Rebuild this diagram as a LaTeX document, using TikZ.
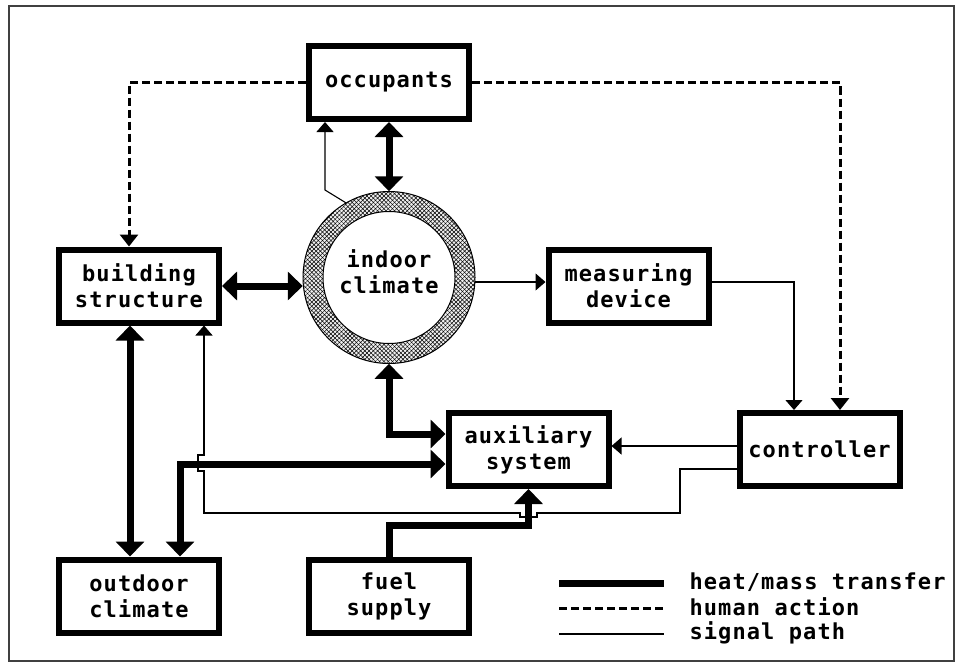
\documentclass[tikz,border=0pt]{standalone}
\usepackage{fontspec}
\newfontfamily\labelfont{DejaVu Sans Mono}[LetterSpace=5]
\usetikzlibrary{arrows.meta,calc,patterns.meta}

\begin{document}
\begin{tikzpicture}[x=1pt,y=-1pt,
  lbl/.style={font=\labelfont\bfseries\fontsize{22pt}{26pt}\selectfont, align=center},
  box/.style={lbl, draw, line width=6pt, minimum width=160pt, minimum height=73pt, inner sep=0pt},
  heat/.style={line width=7pt, line join=miter,
    arrows={-Triangle[width=28pt,length=15pt]}},
  heatboth/.style={heat, arrows={Triangle[width=28pt,length=15pt]-Triangle[width=28pt,length=15pt]}},
  dashline/.style={line width=3pt, dash pattern=on 8pt off 4pt},
  human/.style={dashline, arrows={-Triangle[width=18pt,length=12pt]}},
  signal/.style={line width=1.1pt, arrows={-Triangle[width=17pt,length=10pt]}},
]
% page and frame
\useasboundingbox (0,0) rectangle (963,669);
\fill[white] (0,0) rectangle (963,669);
\draw[black!75, line width=1.5pt] (9,6) rectangle (954,661);

% blocks
\node[box] (occ)  at (389,82.5)  {occupants};
\node[box] (bs)   at (139,286)   {building\\structure};
\node[box] (meas) at (628.5,286) {measuring\\device};
\node[box] (aux)  at (528.5,449.5) {auxiliary\\system};
\node[box] (ctrl) at (819.5,449.5) {controller};
\node[box] (out)  at (139,596)   {outdoor\\climate};
\node[box] (fuel) at (389,596)   {fuel\\supply};

% indoor climate: hatched ring around a white core
\node[circle, draw, line width=1pt, minimum size=172pt, inner sep=0pt,
      preaction={fill=gray!12},
      preaction={pattern={Lines[angle=45,distance=3pt,line width=0.5pt]}},
      pattern={Lines[angle=-45,distance=3pt,line width=0.5pt]}]
      (indoor) at (389,277.5) {};
\node[circle, draw, fill=white, line width=1pt, minimum size=132pt, inner sep=0pt]
      (core) at (indoor.center) {};
\node[lbl] (indoorlbl) at (389,272) {indoor\\climate};

% human action
\draw[human] (occ.west) -| ($(bs.north)+(-10,0)$);
\draw[human] (occ.east) -| ($(ctrl.north)+(20.5,0)$);

% heat / mass transfer
\draw[heatboth] (occ.south) -- (indoor.north);
\draw[heatboth] (bs.east) -- (bs.east -| indoor.west);
\draw[heatboth] ($(bs.south)+(-9,0)$) -- ($(out.north)+(-9,0)$);
\draw[heatboth] (indoor.south) |- ($(aux.west)+(0,-15.5)$);
\draw[heatboth] ($(out.north)+(41,0)$) |- ($(aux.west)+(0,14.5)$);
\draw[heat] (fuel.north) |- (470,525) -| (aux.south);

% signal paths
\coordinate (mw) at ($(meas.west)+(0,-4)$);
\draw[signal] (indoor.120) -- (325,190) -- ($(occ.south)+(-64,0)$);
\draw[signal] (indoor.east |- mw) -- (mw);
\draw[signal] ($(meas.east)+(0,-4)$) -| ($(ctrl.north)+(-25.5,0)$);
\draw[signal] ($(ctrl.west)+(0,-3.5)$) -- ($(aux.east)+(0,-3.5)$);
\draw[signal] ($(ctrl.west)+(0,19.5)$) -- (680,469) -- (680,513)
  -- (537,513) -- (537,517) -- (520,517) -- (520,513)
  -- (204,513) -- (204,471) -- (198,471) -- (198,455) -- (204,455)
  -- ($(bs.south)+(65,0)$);

% legend
\coordinate (k1a) at (559,583); \coordinate (k1b) at (664,583);
\coordinate (k2a) at (559,608); \coordinate (k2b) at (664,608);
\coordinate (k3a) at (559,634); \coordinate (k3b) at (664,634);
\draw[line width=7pt] (k1a) -- (k1b);
\draw[dashline] (k2a) -- (k2b);
\draw[line width=1.1pt] (k3a) -- (k3b);
\node[lbl, anchor=west] (t1) at (686,582) {heat/mass transfer};
\node[lbl, anchor=west] (t2) at (686,607) {human action};
\node[lbl, anchor=west] (t3) at (686,633) {signal path};
\end{tikzpicture}
\end{document}
